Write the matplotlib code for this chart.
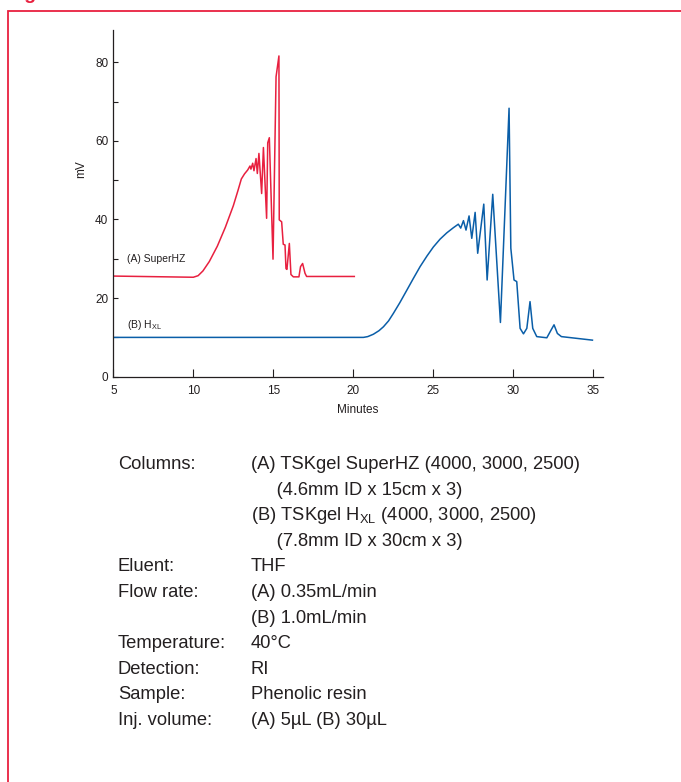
import matplotlib
matplotlib.use('Agg')
import matplotlib.pyplot as plt
from matplotlib.patches import Rectangle
from matplotlib.ticker import MultipleLocator

plt.rcParams['font.family'] = ['Liberation Sans', 'DejaVu Sans']

# ---- chromatogram traces ----
superhz_min = [5.0, 10.0, 10.3, 10.6, 11.0, 11.5, 12.0, 12.5, 12.8, 13.0, 13.2, 13.4, 13.54, 13.6,
               13.71, 13.79, 13.92, 14.0, 14.1, 14.27, 14.38, 14.58, 14.65, 14.75, 14.98,
               15.17, 15.35, 15.37, 15.52, 15.62, 15.73, 15.79, 15.85, 16.0, 16.1, 16.25,
               16.6, 16.7, 16.83, 16.98, 17.08, 20.06]
superhz_mv = [25.6, 25.3, 25.7, 26.9, 29.3, 33.2, 38.0, 43.5, 47.5, 50.3, 51.6, 52.6, 53.6, 52.8,
              54.3, 52.4, 55.5, 51.7, 56.8, 46.6, 58.3, 40.3, 59.5, 60.8, 29.9,
              76.3, 81.6, 39.9, 39.4, 33.7, 33.5, 27.5, 27.3, 33.9, 26.0, 25.4,
              25.4, 28.0, 28.8, 26.3, 25.5, 25.5]

hxl_min = [5.0, 20.63, 20.9, 21.25, 21.6, 21.88, 22.2, 22.5, 22.9, 23.34, 23.75, 24.17, 24.6,
           25.0, 25.42, 25.84, 26.25, 26.56,
           26.71, 26.88, 27.04, 27.23, 27.4, 27.61, 27.77, 28.15, 28.36, 28.71, 29.19,
           29.73, 29.84, 30.04, 30.21, 30.42, 30.63, 30.84, 31.04, 31.21, 31.46, 32.09,
           32.36, 32.54, 32.75, 33.0, 34.94]
hxl_mv = [10.0, 10.0, 10.2, 10.8, 11.7, 12.7, 14.2, 16.1, 18.8, 22.0, 25.0, 28.0, 30.7,
          33.0, 35.0, 36.6, 37.9, 38.8,
          37.8, 39.7, 37.3, 40.9, 35.2, 41.8, 31.4, 43.9, 24.6, 46.4, 13.8,
          68.3, 32.7, 24.6, 24.2, 12.3, 10.9, 12.3, 19.1, 12.3, 10.2, 9.9,
          11.9, 13.2, 11.0, 10.2, 9.3]

x_ticks = [5, 10, 15, 20, 25, 30, 35]
y_ticks = [0, 20, 40, 60, 80]

conditions = [
    ('Columns:', '(A) TSKgel SuperHZ (4000, 3000, 2500)'),
    ('', '     (4.6mm ID x 15cm x 3)'),
    ('', r'(B) TSKgel H$_\mathregular{XL}$ (4000, 3000, 2500)'),
    ('', '     (7.8mm ID x 30cm x 3)'),
    ('Eluent:', 'THF'),
    ('Flow rate:', '(A) 0.35mL/min'),
    ('', '(B) 1.0mL/min'),
    ('Temperature:', '40°C'),
    ('Detection:', 'RI'),
    ('Sample:', 'Phenolic resin'),
    ('Inj. volume:', '(A) 5µL (B) 30µL'),
]

RED = '#e8203f'
BLUE = '#0a5ea8'
INK = '#231f20'

W, H = 681, 782
fig = plt.figure(figsize=(W / 100, H / 100), dpi=100)

# red frame around the figure panel (runs off right/bottom)
fig.add_artist(Rectangle((8 / W, -0.2), 2.0, 1.2 - 11 / H, transform=fig.transFigure,
                         fill=False, edgecolor=RED, lw=1.3))
# cut-off caption above the frame
fig.text(8 / W, 1 + 1 / H, 'Figure', color=RED, fontsize=14, fontweight='bold', va='baseline')

ax = fig.add_axes([113.3 / W, 1 - 376.7 / H, (603 - 113.3) / W, (376.7 - 30) / H])
ax.plot(superhz_min, superhz_mv, color=RED, lw=1.1)
ax.plot(hxl_min, hxl_mv, color=BLUE, lw=1.1)

ax.set_xlim(5, 35.6)
ax.set_ylim(0, 88.2)
ax.set_xticks(x_ticks)
ax.set_yticks(y_ticks)
ax.yaxis.set_minor_locator(MultipleLocator(10))
ax.tick_params(axis='x', direction='in', length=6, width=0.8, pad=6, labelsize=8.5, colors=INK)
ax.tick_params(axis='y', which='both', direction='in', length=3.6, width=0.8, pad=3.6,
               labelsize=8.5, colors=INK)
for s in ['top', 'right']:
    ax.spines[s].set_visible(False)
for s in ['left', 'bottom']:
    ax.spines[s].set_linewidth(0.9)
    ax.spines[s].set_color(INK)

ax.set_xlabel('Minutes', fontsize=8.5, color=INK, labelpad=5)
ax.set_ylabel('mV', fontsize=8.5, color=INK)
ax.yaxis.set_label_coords(-0.054, 0.6)

ax.text(5.84, 30, '(A) SuperHZ', fontsize=7.5, color=INK, va='center')
ax.text(5.84, 13.2, r'(B) H$_\mathregular{XL}$', fontsize=7.5, color=INK, va='center')

# conditions block
for i, (label, value) in enumerate(conditions):
    yb = 1 - (469 + 25.6 * i) / H
    if label:
        fig.text(118 / W, yb, label, fontsize=13.2, color=INK, va='baseline')
    fig.text(251 / W, yb, value, fontsize=13.2, color=INK, va='baseline')

fig.savefig('out.png', dpi=100)
